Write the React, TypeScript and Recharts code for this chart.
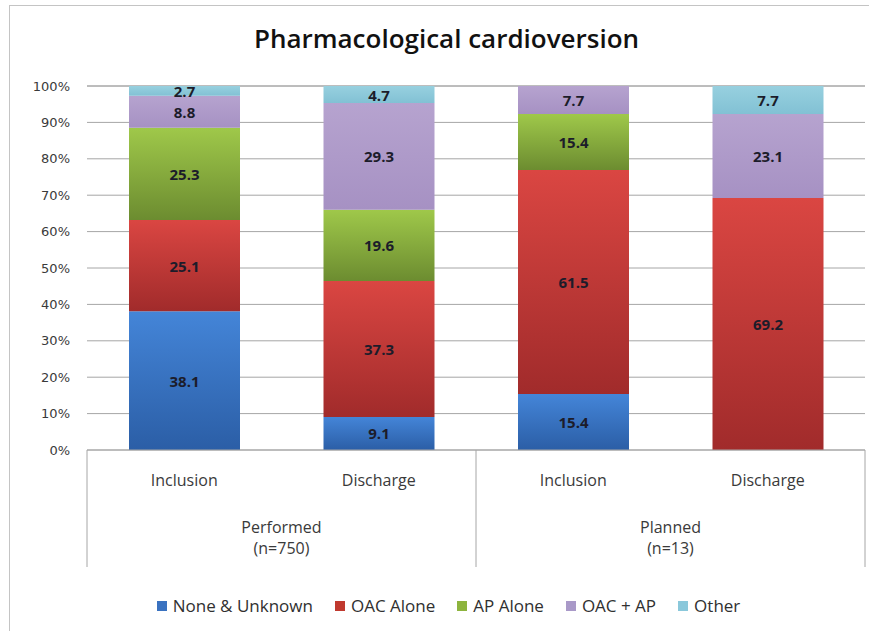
import React from 'react';
import { BarChart, Bar, XAxis, YAxis, CartesianGrid, LabelList } from 'recharts';

const categories = ['Inclusion', 'Discharge', 'Inclusion', 'Discharge'];
const groups = ['Performed', 'Performed', 'Planned', 'Planned'];
const groupCounts = ['(n=750)', '(n=750)', '(n=13)', '(n=13)'];

const noneUnknown = [38.1, 9.1, 15.4, 0];
const oacAlone = [25.1, 37.3, 61.5, 69.2];
const apAlone = [25.3, 19.6, 15.4, 0];
const oacAp = [8.8, 29.3, 7.7, 23.1];
const other = [2.7, 4.7, 0, 7.7];

const yTicks = [0, 10, 20, 30, 40, 50, 60, 70, 80, 90, 100];

const series = [
  { key: 'none', name: 'None & Unknown', values: noneUnknown, top: '#4485d8', bottom: '#2b5ea6', legend: '#3a72c0' },
  { key: 'oac', name: 'OAC Alone', values: oacAlone, top: '#da4642', bottom: '#a12b2b', legend: '#c0392f' },
  { key: 'ap', name: 'AP Alone', values: apAlone, top: '#9fc84a', bottom: '#6c8c30', legend: '#8db43e' },
  { key: 'oacap', name: 'OAC + AP', values: oacAp, top: '#b6a3cf', bottom: '#a691c3', legend: '#a999c8' },
  { key: 'other', name: 'Other', values: other, top: '#97d0df', bottom: '#82c1d4', legend: '#8ac8db' },
];

const data = categories.map((c, i) => {
  const row: Record<string, any> = { id: `c${i}`, category: c };
  series.forEach((s) => {
    row[s.key] = s.values[i];
  });
  return row;
});

const W = 869;
const H = 631;
const MARGIN = { top: 86, right: 4, left: 27, bottom: 61 };
const Y_WIDTH = 60;
const PLOT_W = W - MARGIN.left - Y_WIDTH - MARGIN.right;
const BAND = PLOT_W / categories.length;
const FONT = '"Open Sans", "DejaVu Sans", sans-serif';

const CategoryTick = (props: any) => {
  const { x, y, payload } = props;
  const i = payload.index;
  const axisY = y - 8;
  const lineEnd = axisY + 117;
  const showGroup = i === 0 || i === 2;
  return (
    <g>
      <text x={x} y={axisY + 36} textAnchor="middle" fontSize={16} fill="#3a3a3a" fontFamily={FONT}>
        {categories[i]}
      </text>
      {showGroup && (
        <g>
          <line x1={x - BAND / 2} x2={x - BAND / 2} y1={axisY} y2={lineEnd} stroke="#a6a6a6" />
          <text x={x + BAND / 2} y={axisY + 83} textAnchor="middle" fontSize={16} fill="#3a3a3a" fontFamily={FONT}>
            {groups[i]}
          </text>
          <text x={x + BAND / 2} y={axisY + 104} textAnchor="middle" fontSize={16} fill="#3a3a3a" fontFamily={FONT}>
            {groupCounts[i]}
          </text>
        </g>
      )}
      {i === categories.length - 1 && (
        <line x1={x + BAND / 2} x2={x + BAND / 2} y1={axisY} y2={lineEnd} stroke="#a6a6a6" />
      )}
    </g>
  );
};

const renderLabel = (props: any) => {
  const { x, y, width, height, value } = props;
  if (!value) return null;
  return (
    <text
      x={x + width / 2}
      y={y + height / 2}
      textAnchor="middle"
      dominantBaseline="central"
      fontSize={15}
      fontWeight="bold"
      fill="#1c1c2a"
      fontFamily={FONT}
    >
      {value}
    </text>
  );
};

export default function App() {
  return (
    <div style={{ position: 'absolute', left: 0, top: 0, width: W, height: H, background: '#fff', overflow: 'hidden' }}>
      <div
        style={{
          position: 'absolute',
          left: 9,
          top: 5,
          width: W,
          height: H,
          borderLeft: '1px solid #c4c4c4',
          borderTop: '1px solid #c4c4c4',
        }}
      />
      <div
        style={{
          position: 'absolute',
          left: 12,
          top: 20,
          width: W,
          textAlign: 'center',
          fontFamily: FONT,
          fontSize: 26,
          fontWeight: 600,
          color: '#111',
        }}
      >
        Pharmacological cardioversion
      </div>
      <div style={{ position: 'absolute', left: 0, top: 0 }}>
        <BarChart width={W} height={H} data={data} margin={MARGIN}>
          <defs>
            {series.map((s) => (
              <linearGradient key={s.key} id={`grad-${s.key}`} x1="0" y1="0" x2="0" y2="1">
                <stop offset="0%" stopColor={s.top} />
                <stop offset="100%" stopColor={s.bottom} />
              </linearGradient>
            ))}
          </defs>
          <CartesianGrid vertical={false} stroke="#a6a6a6" />
          <XAxis
            dataKey="id"
            height={120}
            axisLine={{ stroke: '#a6a6a6' }}
            tickLine={false}
            tick={<CategoryTick />}
            interval={0}
          />
          <YAxis
            width={Y_WIDTH}
            domain={[0, 100]}
            ticks={yTicks}
            tickFormatter={(v: number) => `${v}%`}
            axisLine={false}
            tickLine={false}
            tickSize={0}
            tickMargin={17}
            tick={{ fontSize: 13, fill: '#3a3a3a', fontFamily: '"DejaVu Sans", sans-serif' }}
            interval={0}
          />
          {series.map((s) => (
            <Bar
              key={s.key}
              dataKey={s.key}
              name={s.name}
              stackId="a"
              barSize={111}
              fill={`url(#grad-${s.key})`}
              isAnimationActive={false}
            >
              <LabelList dataKey={s.key} content={renderLabel} />
            </Bar>
          ))}
        </BarChart>
      </div>
      <div
        style={{
          position: 'absolute',
          left: 14,
          top: 594,
          width: W,
          display: 'flex',
          justifyContent: 'center',
          gap: 22,
          fontFamily: FONT,
          fontSize: 17,
          color: '#303030',
        }}
      >
        {series.map((s) => (
          <div key={s.key} style={{ display: 'flex', alignItems: 'center' }}>
            <span style={{ display: 'inline-block', width: 10, height: 10, background: s.legend, marginRight: 6 }} />
            <span>{s.name}</span>
          </div>
        ))}
      </div>
    </div>
  );
}
